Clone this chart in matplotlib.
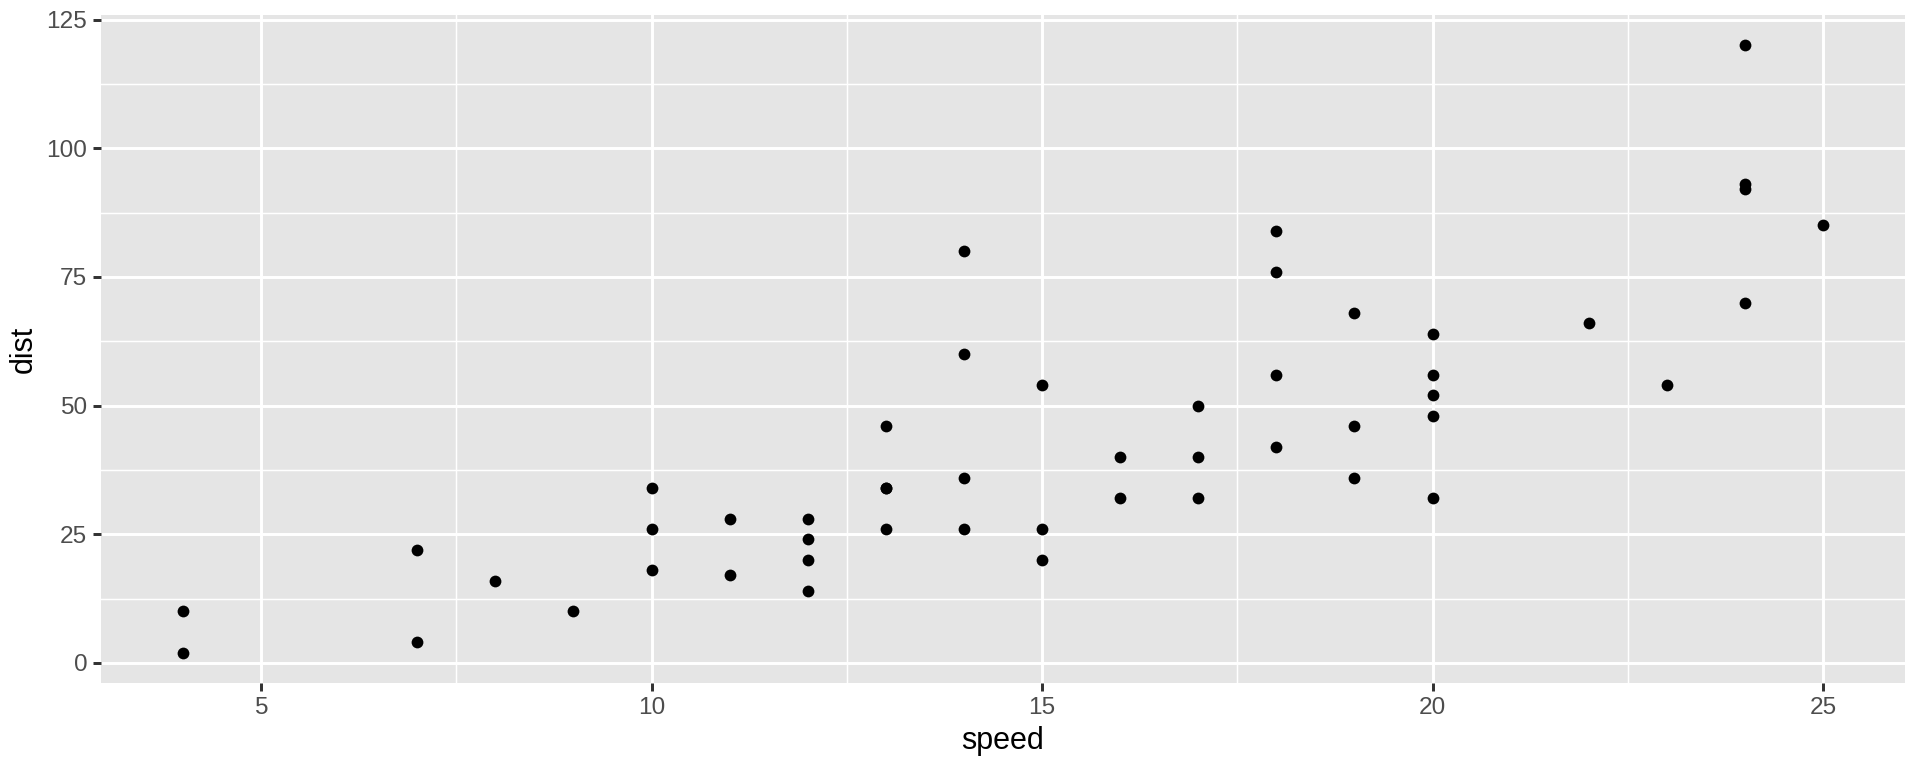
import matplotlib
matplotlib.use("Agg")
import matplotlib.pyplot as plt
from matplotlib.ticker import MultipleLocator, FixedLocator

speed = [4, 4, 7, 7, 8, 9, 10, 10, 10, 11, 11, 12, 12, 12, 12, 13, 13, 13, 13,
         14, 14, 14, 14, 15, 15, 15, 16, 16, 17, 17, 17, 18, 18, 18, 18, 19, 19,
         19, 20, 20, 20, 20, 20, 22, 23, 24, 24, 24, 24, 25]
dist = [2, 10, 4, 22, 16, 10, 18, 26, 34, 17, 28, 14, 20, 24, 28, 26, 34, 34, 46,
        26, 36, 60, 80, 20, 26, 54, 32, 40, 32, 40, 50, 42, 56, 76, 84, 36, 46,
        68, 32, 48, 52, 56, 64, 66, 54, 70, 92, 93, 120, 85]
x_ticks = [5, 10, 15, 20, 25]
y_ticks = [0, 25, 50, 75, 100, 125]

plt.rcParams['font.family'] = ['Liberation Sans', 'DejaVu Sans']

fig = plt.figure(figsize=(9.6, 3.84), dpi=200)
ax = fig.add_axes([101/1920, 1-683/768, (1905-101)/1920, (683-15)/768])
ax.set_facecolor('#EBEBEB')
ax.set_facecolor('#E5E5E5')

ax.scatter(speed, dist, s=18, color='black', linewidths=0, zorder=3)

xr = max(speed) - min(speed)
yr = max(dist) - min(dist)
ax.set_xlim(min(speed) - 0.05*xr, max(speed) + 0.05*xr)
ax.set_ylim(min(dist) - 0.05*yr, max(dist) + 0.05*yr)

ax.xaxis.set_major_locator(FixedLocator(x_ticks))
ax.yaxis.set_major_locator(FixedLocator(y_ticks))
ax.xaxis.set_minor_locator(FixedLocator([2.5, 7.5, 12.5, 17.5, 22.5]))
ax.yaxis.set_minor_locator(FixedLocator([12.5, 37.5, 62.5, 87.5, 112.5]))

ax.grid(which='major', color='white', linewidth=1.07, zorder=1)
ax.grid(which='minor', color='white', linewidth=0.53, zorder=1)
ax.set_axisbelow(True)

for s in ax.spines.values():
    s.set_visible(False)

ax.tick_params(which='major', length=2.75, width=1.07, color='#333333',
               labelsize=8.8, labelcolor='#4D4D4D', pad=2.2)
ax.tick_params(which='minor', length=0)

ax.set_xlabel('speed', fontsize=11, color='black', labelpad=2.75)
ax.set_ylabel('dist', fontsize=11, color='black', labelpad=2.75)

fig.savefig('out.png', dpi=200, facecolor='white')
